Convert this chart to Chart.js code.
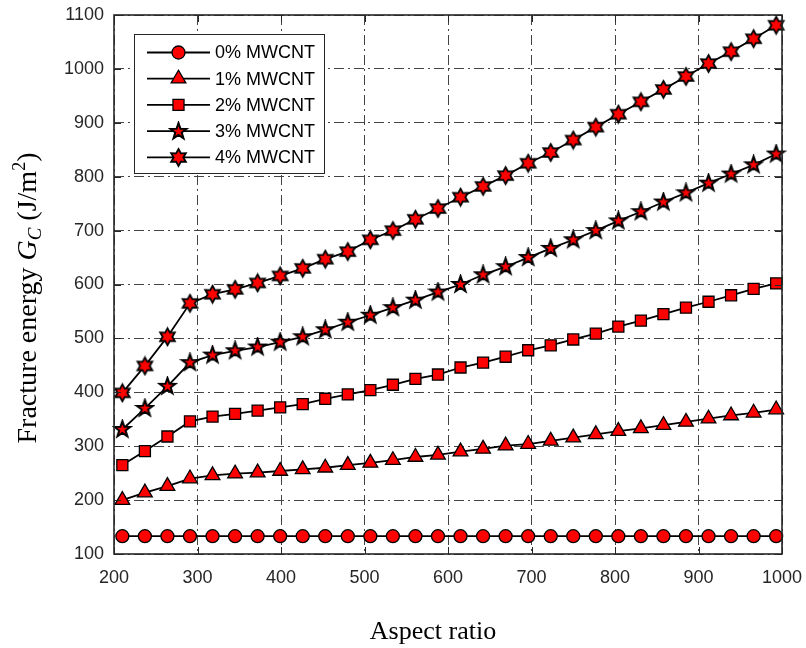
<!DOCTYPE html>
<html lang="en">
<head>
    <meta charset="UTF-8">
    <title>Fracture energy vs aspect ratio</title>
    <script src="https://cdn.jsdelivr.net/npm/chart.js"></script>
    <style>
        body { margin: 0; background: #fff; }
        canvas { display: block; }
    </style>
</head>
<body>
    <canvas id="myChart" width="806" height="648"></canvas>

    <script>
        // values
        const aspect = [210, 237, 264, 291, 318, 345, 372, 399, 426, 453, 480, 507, 534, 561, 588,
                        615, 642, 669, 696, 723, 750, 777, 804, 831, 858, 885, 912, 939, 966, 993];
        const mw0 = [133, 133, 133, 133, 133, 133, 133, 133, 133, 133, 133, 133, 133, 133, 133,
                     133, 133, 133, 133, 133, 133, 133, 133, 133, 133, 133, 133, 133, 133, 133];
        const mw1 = [200, 214, 226, 240, 246, 249, 251, 254, 257, 260, 265, 269, 274, 280, 284,
                     290, 295, 301, 304, 310, 316, 322, 328, 333, 339, 345, 351, 357, 362, 368];
        const mw2 = [265, 291, 318, 346, 355, 360, 366, 372, 378, 388, 396, 404, 414, 425, 433,
                     446, 455, 466, 478, 487, 498, 509, 522, 533, 545, 557, 568, 580, 592, 602];
        const mw3 = [331, 370, 411, 455, 469, 477, 484, 493, 503, 516, 530, 543, 557, 571, 586,
                     600, 618, 633, 650, 667, 683, 700, 718, 735, 753, 770, 788, 805, 822, 842];
        const mw4 = [399, 449, 503, 565, 582, 591, 603, 616, 630, 647, 661, 683, 700, 721, 741,
                     762, 782, 802, 825, 845, 868, 892, 916, 939, 962, 986, 1010, 1032, 1056, 1081];
        const seriesLabels = ['0% MWCNT', '1% MWCNT', '2% MWCNT', '3% MWCNT', '4% MWCNT'];
        const xTitle = 'Aspect ratio';

        const SANS = '"Liberation Sans", Arial, sans-serif';
        const SERIF = '"Liberation Serif", "Times New Roman", serif';
        const AXIS = '#262626';
        const GRID = '#444';

        // pentagram / hexagram markers (matlab 'p' and 'h')
        function starMarker(n, outer, inner, lw) {
            const size = Math.ceil(outer * 2 + 4);
            const c = document.createElement('canvas');
            c.width = size; c.height = size;
            const g = c.getContext('2d');
            g.translate(size / 2, size / 2);
            g.beginPath();
            for (let i = 0; i < 2 * n; i++) {
                const r = i % 2 ? inner : outer;
                const a = -Math.PI / 2 + i * Math.PI / n;
                g.lineTo(r * Math.cos(a), r * Math.sin(a));
            }
            g.closePath();
            g.fillStyle = '#ff0000';
            g.fill();
            g.lineWidth = lw;
            g.strokeStyle = '#000';
            g.stroke();
            return c;
        }
        const penta = starMarker(5, 8.5, 3.4, 2.0);
        const hexa = starMarker(6, 8.5, 4.8, 1.8);

        const styles = [
            { pointStyle: 'circle', radius: 6.5 },
            { pointStyle: 'triangle', radius: 8.5 },
            { pointStyle: 'rect', radius: 7.8 },
            { pointStyle: penta, radius: 8 },
            { pointStyle: hexa, radius: 8 }
        ];
        const values = [mw0, mw1, mw2, mw3, mw4];

        const datasets = values.map((vals, i) => ({
            label: seriesLabels[i],
            data: aspect.map((a, j) => ({ x: a, y: vals[j] })),
            borderColor: '#000',
            borderWidth: 1.8,
            backgroundColor: '#ff0000',
            pointBackgroundColor: '#ff0000',
            pointBorderColor: '#000',
            pointBorderWidth: 1.3,
            pointStyle: styles[i].pointStyle,
            pointRadius: styles[i].radius,
            tension: 0,
            fill: false,
            clip: false
        }));

        function drawMarker(c, style, r, x, y) {
            c.save();
            if (typeof style !== 'string') {
                c.drawImage(style, Math.round(x - style.width / 2), Math.round(y - style.height / 2));
                c.restore();
                return;
            }
            c.beginPath();
            if (style === 'circle') {
                c.arc(x, y, r, 0, Math.PI * 2);
            } else if (style === 'triangle') {
                for (let k = 0; k < 3; k++) {
                    const a = -Math.PI / 2 + k * 2 * Math.PI / 3;
                    c.lineTo(x + r * Math.cos(a), y + r * Math.sin(a));
                }
                c.closePath();
            } else {
                const s = r * Math.SQRT1_2;
                c.rect(x - s, y - s, 2 * s, 2 * s);
            }
            c.fillStyle = '#ff0000';
            c.fill();
            c.lineWidth = 1.3;
            c.strokeStyle = '#000';
            c.stroke();
            c.restore();
        }

        // box, inner ticks, legend and axis titles
        const decor = {
            id: 'decor',
            afterDatasetsDraw(chart) {
                const c = chart.ctx;
                const a = chart.chartArea;
                const xs = chart.scales.x, ys = chart.scales.y;
                c.save();
                c.strokeStyle = AXIS;
                c.lineWidth = 1;
                c.beginPath();
                xs.ticks.forEach(t => {
                    const px = Math.round(xs.getPixelForValue(t.value)) + 0.5;
                    c.moveTo(px, a.bottom); c.lineTo(px, a.bottom - 7);
                    c.moveTo(px, a.top); c.lineTo(px, a.top + 7);
                });
                ys.ticks.forEach(t => {
                    const py = Math.round(ys.getPixelForValue(t.value)) + 0.5;
                    c.moveTo(a.left, py); c.lineTo(a.left + 7, py);
                    c.moveTo(a.right, py); c.lineTo(a.right - 7, py);
                });
                c.stroke();
                c.lineWidth = 1.6;
                c.strokeRect(a.left, a.top, a.right - a.left, a.bottom - a.top);

                // legend
                const lx = 134.5, ly = 34.5, lw = 190, lh = 139;
                c.fillStyle = '#fff';
                c.fillRect(lx, ly, lw, lh);
                c.lineWidth = 1;
                c.strokeStyle = AXIS;
                c.strokeRect(lx, ly, lw, lh);
                seriesLabels.forEach((lab, i) => {
                    const y = 52.5 + i * 26.2;
                    c.strokeStyle = '#000';
                    c.lineWidth = 1.8;
                    c.beginPath();
                    c.moveTo(147, y); c.lineTo(210, y);
                    c.stroke();
                    drawMarker(c, styles[i].pointStyle, styles[i].radius, 178.5, y);
                    c.fillStyle = '#000';
                    c.font = '18px ' + SANS;
                    c.textAlign = 'left';
                    c.textBaseline = 'middle';
                    c.fillText(lab, 215, y + 1);
                });

                // x title
                c.fillStyle = '#000';
                c.font = '26px ' + SERIF;
                c.textAlign = 'center';
                c.textBaseline = 'alphabetic';
                c.fillText(xTitle, 433, 639);

                // y title with italic G_C and m^2
                const parts = [
                    { t: 'Fracture energy ', f: '28px ' + SERIF, dy: 0 },
                    { t: 'G', f: 'italic 28px ' + SERIF, dy: 0 },
                    { t: 'C', f: 'italic 19px ' + SERIF, dy: 5 },
                    { t: ' (J/m', f: '28px ' + SERIF, dy: 0 },
                    { t: '2', f: '18px ' + SERIF, dy: -11 },
                    { t: ')', f: '28px ' + SERIF, dy: 0 }
                ];
                let total = 0;
                parts.forEach(p => { c.font = p.f; p.w = c.measureText(p.t).width; total += p.w; });
                c.translate(36, 298);
                c.rotate(-Math.PI / 2);
                c.textAlign = 'left';
                let cx = -total / 2;
                parts.forEach(p => {
                    c.font = p.f;
                    c.fillText(p.t, cx, p.dy);
                    cx += p.w;
                });
                c.restore();
            }
        };

        const tickFmt = v => String(v);

        const ctx = document.getElementById('myChart').getContext('2d');
        new Chart(ctx, {
            type: 'line',
            data: { datasets: datasets },
            options: {
                responsive: false,
                animation: false,
                layout: { padding: { top: 15, right: 24, left: 0, bottom: 0 } },
                plugins: {
                    legend: { display: false },
                    tooltip: { enabled: false }
                },
                scales: {
                    x: {
                        type: 'linear',
                        min: 200,
                        max: 1000,
                        ticks: {
                            stepSize: 100,
                            color: AXIS,
                            font: { family: SANS, size: 18 },
                            padding: 13,
                            maxRotation: 0,
                            callback: tickFmt
                        },
                        grid: { color: GRID, lineWidth: 1, drawTicks: false },
                        border: { display: false, dash: [10, 4, 2, 4] },
                        afterFit: s => { s.height = 94; s.paddingLeft = 0; s.paddingRight = 0; }
                    },
                    y: {
                        min: 100,
                        max: 1100,
                        ticks: {
                            stepSize: 100,
                            color: AXIS,
                            font: { family: SANS, size: 18 },
                            padding: 10,
                            callback: tickFmt
                        },
                        grid: { color: GRID, lineWidth: 1, drawTicks: false },
                        border: { display: false, dash: [10, 4, 2, 4] },
                        afterFit: s => { s.width = 114; s.paddingTop = 0; s.paddingBottom = 0; }
                    }
                }
            },
            plugins: [decor]
        });
    </script>
</body>
</html>
